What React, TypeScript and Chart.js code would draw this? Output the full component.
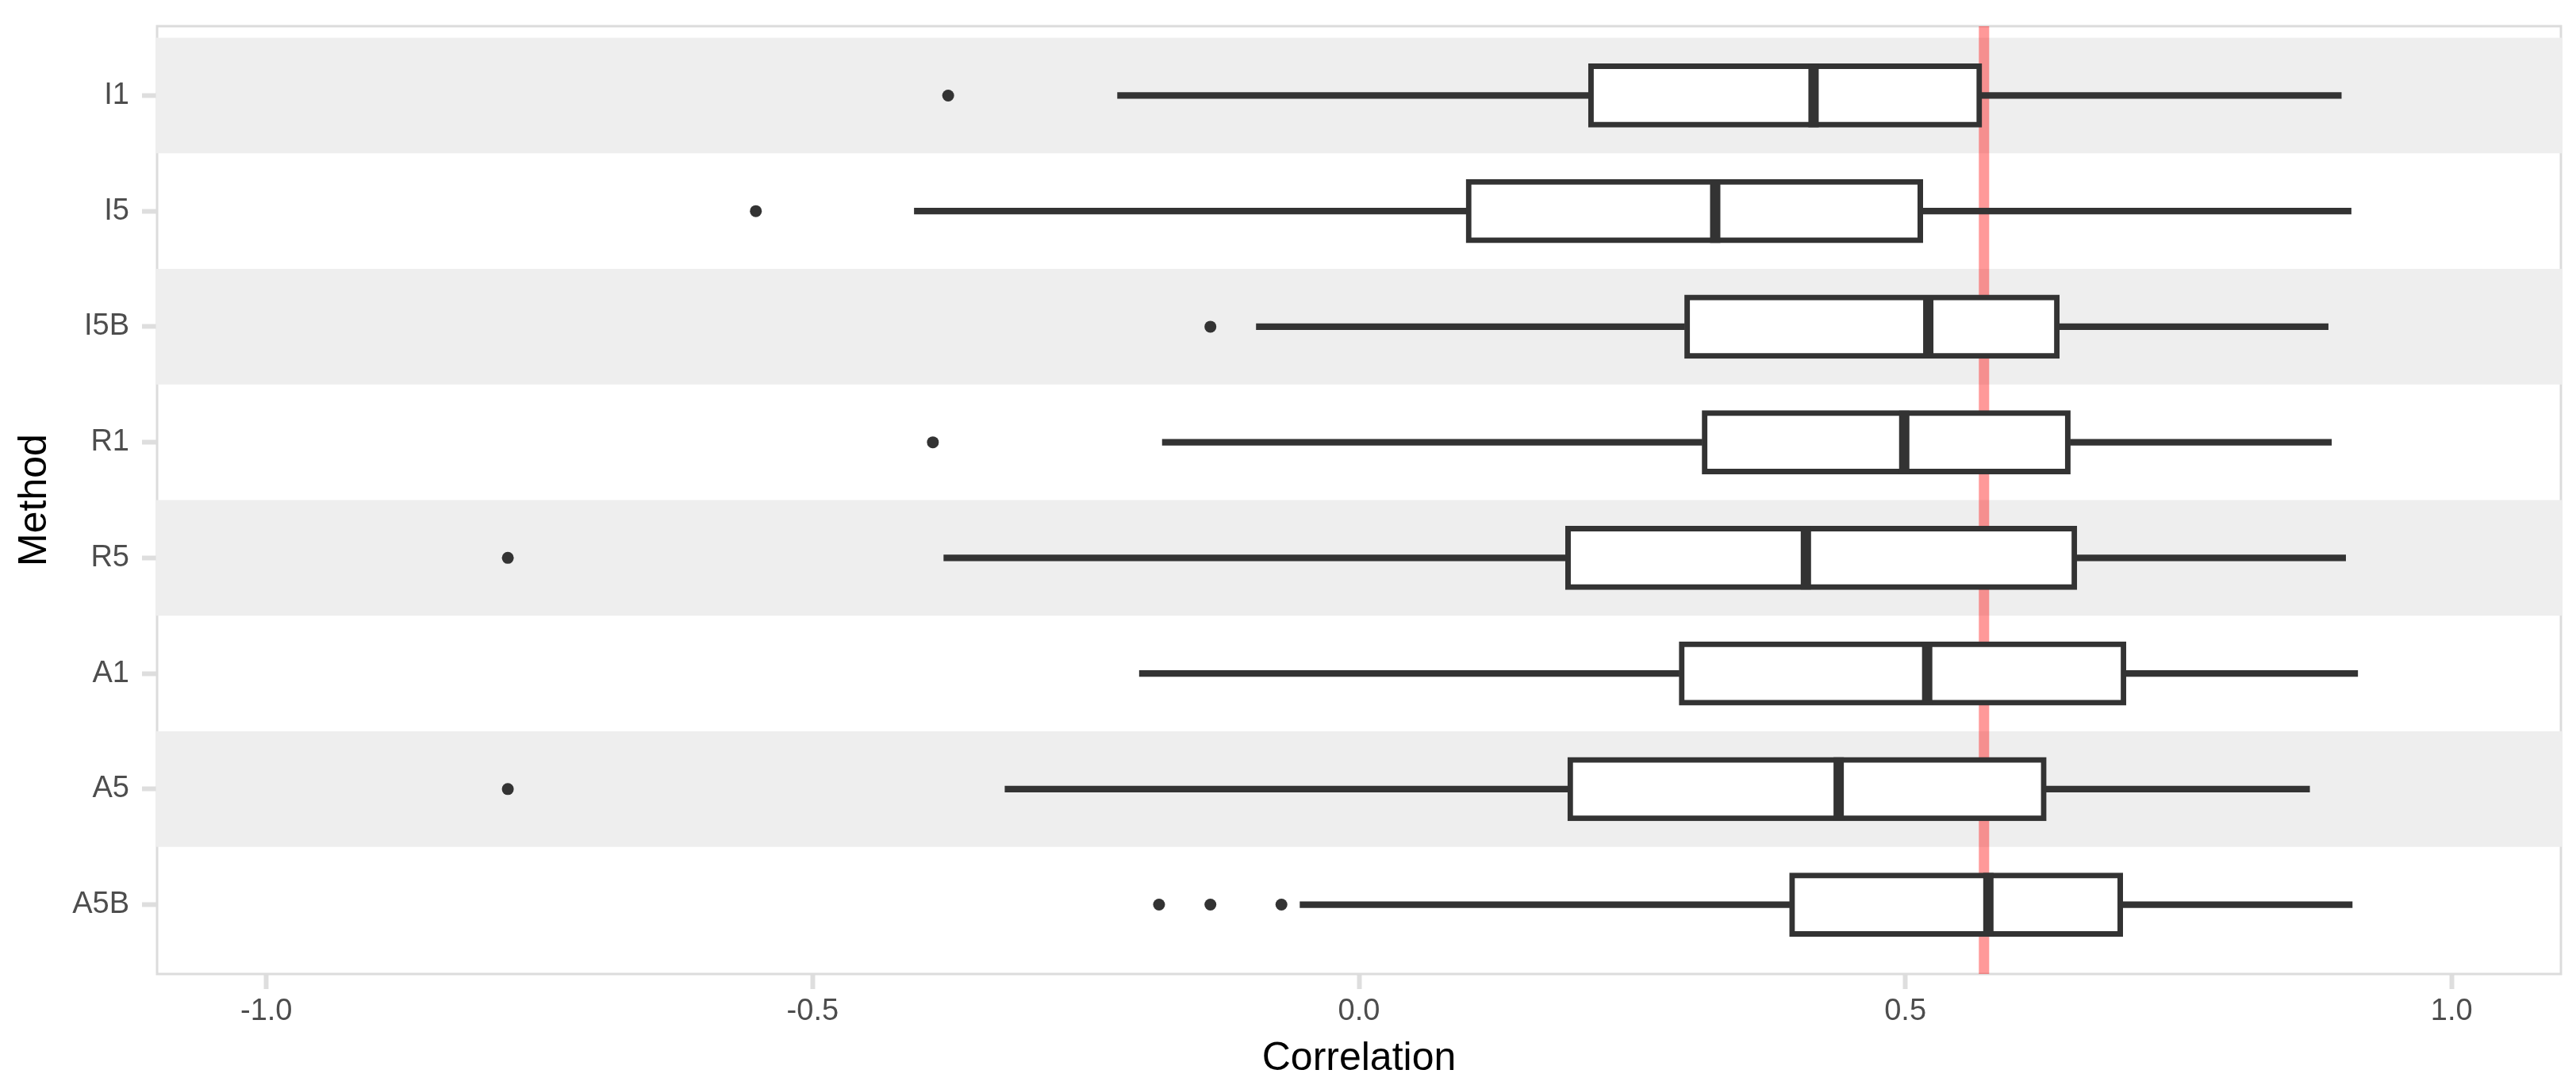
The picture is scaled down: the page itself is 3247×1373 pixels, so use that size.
import React, { useEffect, useRef } from "react";
import { Chart, registerables } from "chart.js";

Chart.register(...registerables);

const methods = ["I1", "I5", "I5B", "R1", "R5", "A1", "A5", "A5B"];
const whiskerLow = [-0.221, -0.407, -0.094, -0.18, -0.38, -0.201, -0.324, -0.054];
const q1 = [0.21, 0.098, 0.298, 0.314, 0.189, 0.293, 0.191, 0.394];
const median = [0.416, 0.326, 0.521, 0.499, 0.409, 0.52, 0.439, 0.576];
const q3 = [0.57, 0.516, 0.641, 0.651, 0.657, 0.702, 0.629, 0.699];
const whiskerHigh = [0.899, 0.908, 0.887, 0.89, 0.903, 0.914, 0.87, 0.909];
const outliers: number[][] = [
  [-0.376],
  [-0.552],
  [-0.136],
  [-0.39],
  [-0.779],
  [],
  [-0.779],
  [-0.183, -0.136, -0.071],
];
const referenceValue = 0.572;
const xTicks = [-1.0, -0.5, 0.0, 0.5, 1.0];

const FONT = "'Liberation Sans', Arial, sans-serif";

export default function App() {
  const ref = useRef<HTMLCanvasElement | null>(null);

  useEffect(() => {
    document.body.style.margin = "0";
    const canvas = ref.current;
    if (!canvas) return;

    const bandPlugin = {
      id: "bands",
      beforeDatasetsDraw(chart: any) {
        const { ctx, chartArea: a, scales } = chart;
        const y = scales.y;
        ctx.save();
        ctx.strokeStyle = "#DCDCDC";
        ctx.lineWidth = 3;
        ctx.strokeRect(a.left, a.top, a.right - a.left, a.bottom - a.top);
        methods.forEach((_, i) => {
          if (i % 2 === 0) {
            const t = y.getPixelForValue(i - 0.5);
            const b = y.getPixelForValue(i + 0.5);
            ctx.fillStyle = "#EEEEEE";
            ctx.fillRect(a.left - 1.5, Math.min(t, b), a.right - a.left + 3, Math.abs(b - t));
          }
        });
        ctx.restore();
      },
    };

    const yMin = -0.6;
    const yMax = methods.length - 0.4;

    const zeroPad = (s: any) => {
      s.paddingTop = 0;
      s.paddingBottom = 0;
      s.paddingLeft = 0;
      s.paddingRight = 0;
    };

    const chart = new Chart(canvas, {
      type: "bar",
      data: {
        datasets: [
          {
            type: "line",
            label: "reference",
            data: [
              { x: referenceValue, y: yMin },
              { x: referenceValue, y: yMax },
            ],
            borderColor: "rgba(255,0,0,0.4)",
            borderWidth: 13,
            pointRadius: 0,
            order: 10,
          } as any,
          {
            type: "bar",
            label: "whiskerLow",
            indexAxis: "y",
            data: methods.map((_, i) => ({ y: i, x: [whiskerLow[i], q1[i]] })),
            backgroundColor: "#333333",
            borderWidth: 0,
            barThickness: 7.5,
            grouped: false,
            order: 5,
          } as any,
          {
            type: "bar",
            label: "whiskerHigh",
            indexAxis: "y",
            data: methods.map((_, i) => ({ y: i, x: [q3[i], whiskerHigh[i]] })),
            backgroundColor: "#333333",
            borderWidth: 0,
            barThickness: 7.5,
            grouped: false,
            order: 5,
          } as any,
          {
            type: "bar",
            label: "box",
            indexAxis: "y",
            data: methods.map((_, i) => ({ y: i, x: [q1[i], q3[i]] })),
            backgroundColor: "#FFFFFF",
            borderColor: "#333333",
            borderWidth: 7,
            borderSkipped: false,
            barThickness: 80,
            grouped: false,
            order: 4,
          } as any,
          {
            type: "scatter",
            label: "median",
            data: methods.map((_, i) => ({ x: median[i], y: i })),
            pointStyle: "line",
            pointRotation: 90,
            pointRadius: 40,
            pointBorderWidth: 13,
            pointBorderColor: "#333333",
            order: 3,
          } as any,
          {
            type: "scatter",
            label: "outliers",
            data: outliers.flatMap((o, i) => o.map((v) => ({ x: v, y: i }))),
            pointStyle: "circle",
            pointRadius: 7.5,
            pointBackgroundColor: "#333333",
            pointBorderWidth: 0,
            order: 2,
          } as any,
        ],
      },
      options: {
        animation: false,
        responsive: false,
        devicePixelRatio: 1,
        events: [],
        layout: { autoPadding: false, padding: { top: 33, right: 19, left: 0, bottom: 0 } },
        plugins: {
          legend: { display: false },
          tooltip: { enabled: false },
        },
        scales: {
          x: {
            type: "linear",
            position: "bottom",
            offset: false,
            min: -1.1,
            max: 1.1,
            afterBuildTicks: (s: any) => {
              s.ticks = xTicks.map((v) => ({ value: v }));
            },
            afterFit: (s: any) => {
              s.height = 145;
              zeroPad(s);
            },
            ticks: {
              callback: (v: any) => Number(v).toFixed(1),
              color: "#4D4D4D",
              font: { family: FONT, size: 38 },
              padding: 6,
              maxRotation: 0,
              autoSkip: false,
            },
            grid: {
              offset: false,
              drawOnChartArea: false,
              drawTicks: true,
              tickLength: 19,
              tickColor: "#DEDEDE",
              tickWidth: 6,
            },
            border: { display: false },
            title: {
              display: true,
              text: "Correlation",
              color: "#000000",
              font: { family: FONT, size: 50 },
              padding: { top: 0, bottom: 7.5 },
            },
          },
          y: {
            type: "linear",
            position: "left",
            offset: false,
            min: yMin,
            max: yMax,
            reverse: true,
            afterBuildTicks: (s: any) => {
              s.ticks = methods.map((_, i) => ({ value: i }));
            },
            afterFit: (s: any) => {
              s.width = 198;
              zeroPad(s);
            },
            ticks: {
              callback: (v: any) => methods[Math.round(Number(v))],
              color: "#4D4D4D",
              font: { family: FONT, size: 38 },
              padding: 16,
              autoSkip: false,
            },
            grid: {
              offset: false,
              drawOnChartArea: false,
              drawTicks: true,
              tickLength: 19,
              tickColor: "#DEDEDE",
              tickWidth: 6,
            },
            border: { display: false },
            title: {
              display: true,
              text: "Method",
              color: "#000000",
              font: { family: FONT, size: 50 },
              padding: { top: 14.5, bottom: 0 },
            },
          },
        },
      } as any,
      plugins: [bandPlugin],
    });

    return () => {
      chart.destroy();
    };
  }, []);

  return (
    <div style={{ width: 3247, height: 1373, position: "relative", background: "#FFFFFF" }}>
      <canvas ref={ref} width={3247} height={1373} style={{ display: "block", width: 3247, height: 1373 }} />
    </div>
  );
}
